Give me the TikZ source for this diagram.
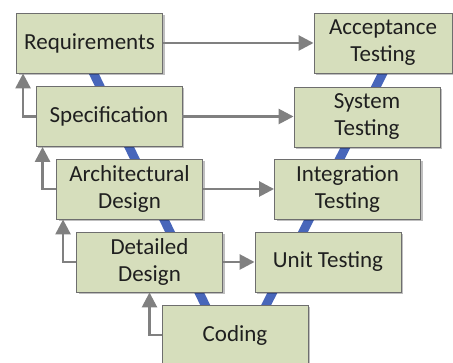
\documentclass[tikz,border=0pt]{standalone}
\usepackage{fontspec}
\setmainfont{Carlito}
\usetikzlibrary{arrows.meta,shadows,calc}
\definecolor{boxfill}{RGB}{214,222,188}
\definecolor{boxdraw}{RGB}{110,110,110}
\definecolor{arrgray}{RGB}{128,128,128}
\definecolor{vblue}{RGB}{72,102,186}
\begin{document}
\begin{tikzpicture}[x=1pt,y=-1pt,
  phase/.style={draw=boxdraw, line width=0.9pt, fill=boxfill, rectangle,
    minimum width=146pt, minimum height=60pt, inner sep=0pt, align=center,
    font=\fontsize{23}{27}\selectfont, text=black!88,
    drop shadow={shadow xshift=2pt, shadow yshift=-2pt, opacity=0.25, fill=black}},
  flow/.style={draw=arrgray, line width=2.7pt, -{Triangle[length=15pt,width=15pt]}},
  vline/.style={draw=vblue, line width=9pt}]
\useasboundingbox (0,0) rectangle (453,363);
\clip (0,0) rectangle (453,363);
\coordinate (vl) at (80,45);
\coordinate (vb) at (235,367);
\coordinate (vr) at (397,45);
\draw[vline] (vl) -- (vb) -- (vr);
\node[phase] (req) at (89.5,43) {Requirements};
\node[phase] (spec) at (109,116.5) {Specification};
\node[phase] (arch) at (129.5,189) {Architectural\\Design};
\node[phase] (det) at (149.5,262) {Detailed\\Design};
\node[phase] (cod) at (235,335) {Coding};
\node[phase, minimum width=138pt] (acc) at (383,43) {Acceptance\\Testing};
\node[phase] (sys) at (367,117) {System\\Testing};
\node[phase] (int) at (347.5,189) {Integration\\Testing};
\node[phase] (unit) at (328,262) {Unit Testing};
\draw[flow] (req.east) -- (acc.west);
\draw[flow] (spec.east) -- (spec.east -| sys.west);
\draw[flow] (arch.east) -- (int.west);
\draw[flow] (det.east) -- (unit.west);
\draw[flow] (spec.west) -| ($(req.south west)+(7,0)$);
\draw[flow] (arch.west) -| ($(spec.south west)+(7,0)$);
\draw[flow] (det.west) -| ($(arch.south west)+(7,0)$);
\draw[flow] (cod.west) -| (det.south);
\end{tikzpicture}
\end{document}
